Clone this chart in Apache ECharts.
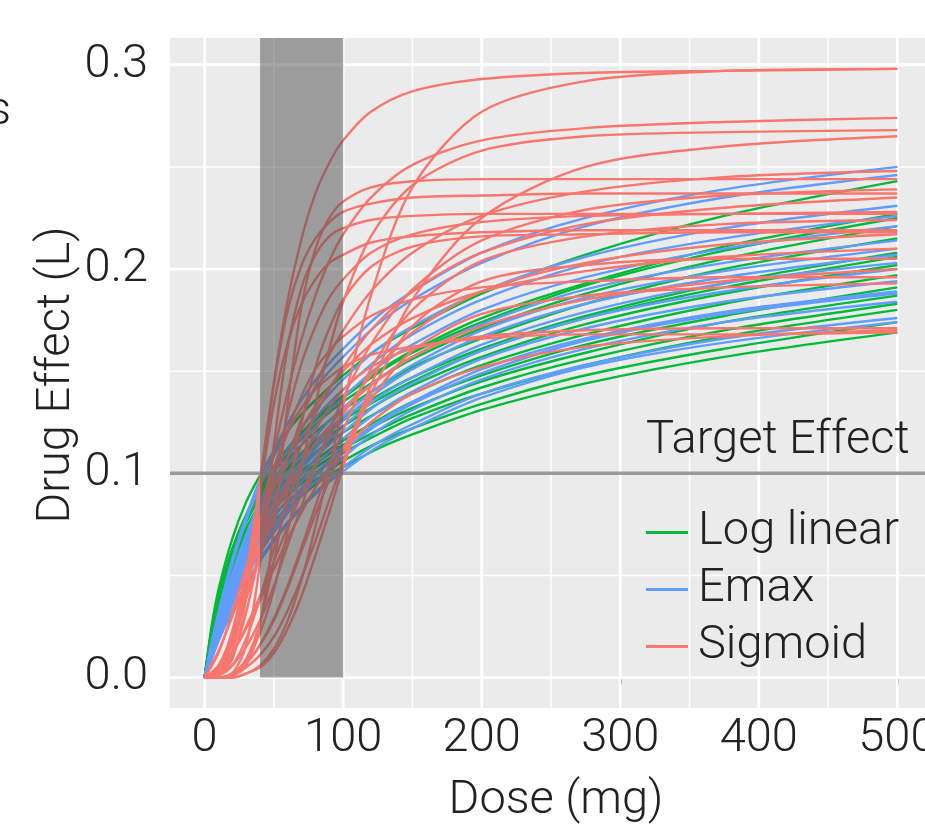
<!DOCTYPE html>
<html><head><meta charset="utf-8">
<script src="https://cdn.jsdelivr.net/npm/echarts@6/dist/echarts.min.js"></script>
<style>html,body{margin:0;padding:0;background:#fff}#c{width:925px;height:828px}</style>
</head><body><div id="c"></div>
<script>
// Dose grids (mg)
const smoothDoses = [0,5,10,20,30,40,55,70,85,100,125,150,200,275,375,500];
const sigmoidDoses = [0,10,20,30,40,50,60,70,80,90,100,120,150,200,275,375,500];

// Log linear model curves (drug effect), sampled at smoothDoses
const logLinearCurves = [
[0,.025,.043,.068,.086,.099,.116,.129,.139,.148,.161,.171,.188,.207,.226,.243],
[0,.023,.040,.063,.080,.093,.108,.120,.130,.138,.150,.160,.176,.193,.211,.227],
[0,.023,.040,.063,.079,.092,.107,.119,.129,.137,.149,.159,.174,.192,.209,.225],
[0,.023,.039,.062,.078,.090,.105,.117,.127,.135,.146,.156,.171,.188,.205,.221],
[0,.022,.038,.060,.076,.088,.102,.114,.123,.131,.142,.152,.166,.183,.200,.215],
[0,.021,.037,.058,.073,.085,.099,.110,.119,.127,.138,.147,.161,.177,.193,.208],
[0,.021,.036,.058,.073,.084,.098,.109,.118,.126,.136,.145,.160,.176,.191,.206],
[0,.021,.036,.057,.071,.083,.096,.107,.116,.123,.134,.143,.157,.173,.188,.202],
[0,.020,.035,.055,.069,.081,.094,.104,.113,.120,.130,.139,.153,.168,.183,.197],
[0,.020,.034,.053,.067,.078,.091,.101,.109,.116,.126,.135,.148,.163,.177,.191],
[0,.019,.033,.052,.066,.077,.089,.099,.107,.114,.124,.132,.145,.159,.174,.187],
[0,.019,.032,.051,.065,.075,.087,.097,.105,.112,.121,.129,.142,.156,.170,.183],
[0,.019,.032,.050,.063,.074,.086,.095,.103,.110,.119,.127,.139,.153,.167,.180],
[0,.018,.031,.048,.061,.071,.083,.092,.099,.106,.115,.122,.134,.148,.161,.174],
[0,.017,.030,.047,.060,.069,.080,.089,.097,.103,.112,.119,.131,.144,.157,.169]
];

// Emax model curves, sampled at smoothDoses
const emaxCurves = [
[0,.017,.032,.058,.079,.097,.118,.136,.150,.161,.177,.189,.208,.225,.239,.250],
[0,.016,.031,.056,.077,.094,.115,.132,.146,.157,.173,.185,.203,.221,.235,.246],
[0,.015,.028,.051,.070,.086,.106,.122,.135,.146,.161,.172,.189,.206,.220,.231],
[0,.014,.027,.049,.068,.083,.102,.118,.131,.141,.156,.168,.185,.202,.215,.226],
[0,.014,.026,.047,.065,.080,.099,.114,.127,.137,.152,.163,.180,.196,.210,.221],
[0,.013,.025,.045,.062,.077,.095,.109,.122,.132,.146,.157,.173,.190,.203,.214],
[0,.013,.024,.044,.060,.074,.092,.106,.118,.128,.142,.153,.170,.186,.199,.210],
[0,.012,.023,.043,.059,.073,.090,.104,.116,.126,.140,.151,.167,.183,.196,.207],
[0,.012,.023,.041,.057,.071,.088,.102,.113,.123,.137,.147,.163,.179,.193,.203],
[0,.012,.022,.040,.056,.069,.086,.099,.111,.120,.134,.144,.160,.176,.189,.200],
[0,.011,.021,.039,.054,.067,.083,.096,.107,.117,.130,.140,.156,.171,.184,.194],
[0,.011,.020,.037,.052,.064,.080,.093,.103,.113,.125,.135,.151,.166,.179,.189],
[0,.010,.020,.037,.051,.063,.078,.091,.102,.111,.124,.134,.149,.165,.178,.188],
[0,.010,.019,.036,.049,.061,.076,.089,.099,.108,.121,.131,.146,.161,.174,.184],
[0,.009,.018,.033,.046,.058,.072,.084,.094,.103,.115,.124,.139,.153,.166,.176],
[0,.009,.018,.033,.045,.057,.071,.083,.093,.101,.113,.122,.137,.152,.164,.174]
];

// Sigmoid model curves, sampled at sigmoidDoses
const sigmoidCurves = [
[0,.002,.017,.050,.097,.145,.185,.215,.237,.252,.263,.277,.287,.293,.296,.297,.298],
[0,0,0,.002,.006,.014,.028,.048,.074,.103,.133,.187,.240,.277,.292,.297,.298],
[0,.003,.017,.043,.076,.110,.140,.166,.187,.204,.217,.235,.251,.263,.269,.272,.274],
[0,0,.002,.008,.022,.043,.072,.103,.134,.161,.184,.216,.241,.258,.265,.267,.268],
[0,0,.001,.005,.011,.020,.033,.049,.067,.087,.106,.143,.185,.225,.250,.260,.265],
[0,.005,.019,.039,.062,.086,.107,.127,.143,.158,.170,.189,.208,.226,.238,.245,.248],
[0,0,.001,.006,.026,.073,.134,.182,.210,.225,.233,.240,.243,.244,.244,.244,.244],
[0,.001,.006,.015,.028,.045,.065,.084,.104,.121,.137,.163,.190,.214,.229,.236,.239],
[0,.001,.009,.039,.091,.143,.180,.202,.215,.223,.228,.232,.235,.236,.237,.237,.237],
[0,.006,.021,.039,.059,.079,.097,.114,.129,.141,.152,.170,.189,.208,.222,.230,.235],
[0,.001,.010,.032,.063,.098,.129,.154,.172,.186,.195,.208,.217,.223,.226,.227,.228],
[0,0,.002,.007,.016,.029,.045,.064,.084,.104,.121,.151,.180,.204,.216,.222,.224],
[0,.001,.013,.045,.091,.134,.164,.183,.195,.203,.207,.213,.216,.218,.219,.219,.219],
[0,0,.002,.009,.027,.057,.092,.125,.152,.171,.185,.201,.211,.216,.217,.218,.218],
[0,.003,.012,.025,.040,.057,.074,.090,.105,.118,.129,.148,.169,.189,.203,.212,.217],
[0,.012,.032,.054,.074,.093,.108,.122,.133,.142,.150,.163,.176,.189,.199,.206,.210],
[0,.013,.030,.048,.065,.080,.093,.105,.115,.123,.131,.143,.157,.172,.185,.194,.200],
[0,.003,.018,.043,.072,.099,.121,.138,.151,.160,.167,.177,.185,.191,.194,.196,.196],
[0,0,.002,.007,.016,.028,.044,.062,.080,.097,.112,.136,.160,.178,.187,.191,.193],
[0,.001,.006,.019,.039,.063,.086,.105,.121,.132,.141,.152,.161,.167,.170,.171,.171],
[0,.003,.012,.024,.038,.053,.068,.081,.093,.103,.111,.125,.139,.152,.162,.167,.170],
[0,.005,.023,.051,.079,.103,.120,.132,.141,.147,.152,.158,.162,.166,.168,.168,.169],
[0,0,0,.002,.005,.012,.024,.040,.060,.081,.103,.139,.172,.194,.202,.205,.205],
[0,0,.002,.016,.056,.114,.162,.191,.207,.216,.220,.224,.226,.227,.227,.227,.227]
];

const modelNames = ['Log linear', 'Emax', 'Sigmoid'];
const xTicks = [0, 100, 200, 300, 400, 500];
const xMinorTicks = [50, 150, 250, 350, 450];
const yTicks = [0, 0.1, 0.2, 0.3];
const yTickLabels = ['0.0', '0.1', '0.2', '0.3'];
const yMinorTicks = [0.05, 0.15, 0.25];
const targetEffect = 0.1;
const targetDoseRange = [40, 100];

const X_MIN = -25, X_MAX = 525, Y_MIN = -0.0149, Y_MAX = 0.3131;
const COLORS = {'Log linear': '#00BA38', 'Emax': '#619CFF', 'Sigmoid': '#F8766D'};
const FONT = 'Roboto, "Liberation Sans", sans-serif';
const FS = 47;
const TXT = '#222222';

const series = [];
function gridLine(data, width) {
  series.push({type: 'line', data, symbol: 'none', silent: true, z: 1,
    lineStyle: {color: '#ffffff', width}, animation: false, legendHoverLink: false});
}
xTicks.forEach(v => gridLine([[v, Y_MIN], [v, Y_MAX]], 2.8));
xMinorTicks.forEach(v => gridLine([[v, Y_MIN], [v, Y_MAX]], 1.5));
yTicks.forEach(v => gridLine([[X_MIN, v], [X_MAX, v]], 2.8));
yMinorTicks.forEach(v => gridLine([[X_MIN, v], [X_MAX, v]], 1.5));

function addCurves(curves, doses, name) {
  curves.forEach(vals => {
    series.push({
      type: 'line', name, symbol: 'none', smooth: 0.3, z: 2,
      data: doses.map((d, i) => [d, vals[i]]),
      lineStyle: {color: COLORS[name], width: 2.4, join: 'round'},
      itemStyle: {color: COLORS[name]},
      emphasis: {disabled: true}, animation: false
    });
  });
}
addCurves(logLinearCurves, smoothDoses, 'Log linear');
addCurves(emaxCurves, smoothDoses, 'Emax');
addCurves(sigmoidCurves, sigmoidDoses, 'Sigmoid');

// target effect line
series.push({type: 'line', data: [[X_MIN, targetEffect], [X_MAX, targetEffect]], symbol: 'none',
  silent: true, z: 3, lineStyle: {color: '#9a9a9a', width: 3.5}, animation: false});

// target dose range shading
series.push({type: 'custom', z: 4, silent: true, clip: false, animation: false,
  data: [targetDoseRange],
  renderItem: function (params, api) {
    const p1 = api.coord([api.value(1), Y_MAX]);
    const p0 = api.coord([api.value(0), 0]);
    return {type: 'rect', shape: {x: p0[0], y: p1[1], width: p1[0] - p0[0], height: p0[1] - p1[1]},
      style: {fill: 'rgba(77,77,77,0.5)'}};
  }
});

const chart = echarts.init(document.getElementById('c'), null, {renderer: 'canvas'});
chart.setOption({
  animation: false,
  backgroundColor: '#ffffff',
  grid: {left: 170, top: 38, width: 762, height: 670, show: true, backgroundColor: '#EBEBEB', borderWidth: 0,
    containLabel: false, outerBoundsMode: 'none'},
  xAxis: {type: 'value', min: X_MIN, max: X_MAX,
    axisLine: {show: false}, splitLine: {show: false},
    axisTick: {show: true, customValues: xTicks, length: 7, lineStyle: {color: '#333', width: 2}},
    axisLabel: {customValues: xTicks, margin: 8, fontSize: FS, fontWeight: 300, color: TXT, fontFamily: FONT, hideOverlap: false}},
  yAxis: {type: 'value', min: Y_MIN, max: Y_MAX,
    axisLine: {show: false}, splitLine: {show: false},
    axisTick: {show: true, customValues: yTicks, length: 7, lineStyle: {color: '#333', width: 2}},
    axisLabel: {customValues: yTicks, margin: 22, fontSize: FS, fontWeight: 300, color: TXT, fontFamily: FONT,
      formatter: v => { const i = yTicks.findIndex(t => Math.abs(t - v) < 1e-9); return i >= 0 ? yTickLabels[i] : ''; }}},
  legend: {data: modelNames, orient: 'vertical', left: 646, top: 504, itemGap: 0, padding: 0,
    itemWidth: 42, itemHeight: 3, icon: 'rect', selectedMode: false,
    textStyle: {fontSize: FS, fontWeight: 300, lineHeight: 57, color: TXT, fontFamily: FONT, padding: [0, 0, 0, 5]}},
  graphic: [
    {type: 'text', x: 646, y: 441, z: 10, style: {text: 'Target Effect', fontSize: FS, fontWeight: 300, fontFamily: FONT, fill: TXT, align: 'left', verticalAlign: 'middle'}},
    {type: 'text', x: 556, y: 801, z: 10, style: {text: 'Dose (mg)', fontSize: FS, fontWeight: 300, fontFamily: FONT, fill: TXT, align: 'center', verticalAlign: 'middle'}},
    {type: 'text', x: 57, y: 375, rotation: Math.PI / 2, z: 10, style: {text: 'Drug Effect (L)', fontSize: FS, fontWeight: 300, fontFamily: FONT, fill: TXT, align: 'center', verticalAlign: 'middle'}},
    {type: 'text', x: 11, y: 112, z: 10, style: {text: 's', fontSize: FS, fontWeight: 300, fontFamily: FONT, fill: TXT, align: 'right', verticalAlign: 'middle'}}
  ],
  series
});
</script></body></html>
